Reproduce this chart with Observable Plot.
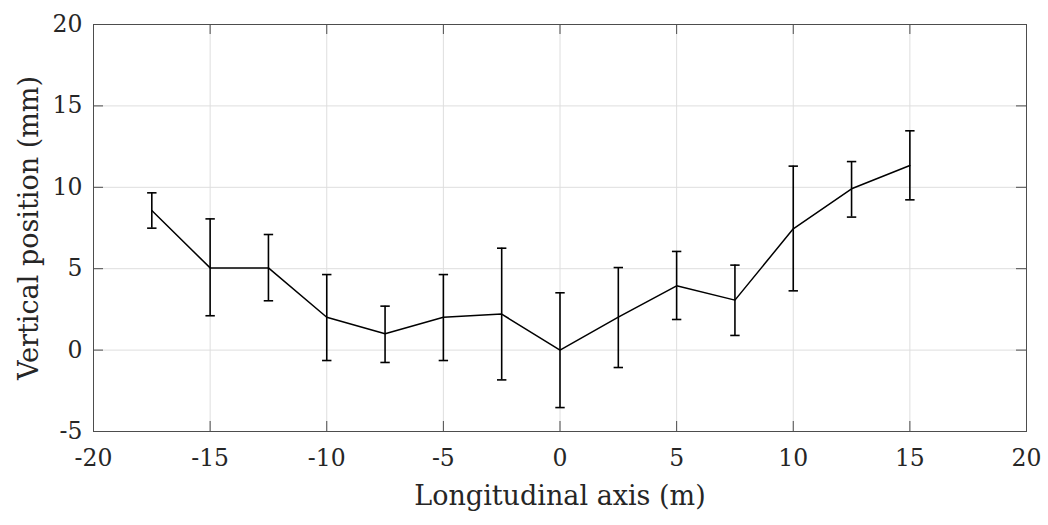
<!DOCTYPE html>
<html>
<head>
<meta charset="utf-8">
<script src="https://cdn.jsdelivr.net/npm/d3@7"></script>
<script src="https://cdn.jsdelivr.net/npm/@observablehq/plot@0.6"></script>
<style>
  html, body { margin: 0; padding: 0; background: #fff; }
  svg { display: block; }
</style>
</head>
<body>
<div id="chart"></div>
<script>
// Data
const positions = [-17.5, -15, -12.5, -10, -7.5, -5, -2.5, 0, 2.5, 5, 7.5, 10, 12.5, 15];
const means     = [8.57, 5.05, 5.05, 2.02, 1.0, 2.02, 2.21, 0.0, 2.02, 3.95, 3.07, 7.45, 9.91, 11.34];
const upper     = [9.66, 8.06, 7.1, 4.64, 2.7, 4.64, 6.26, 3.52, 5.07, 6.06, 5.22, 11.3, 11.58, 13.47];
const lower     = [7.49, 2.11, 3.03, -0.64, -0.76, -0.64, -1.83, -3.53, -1.07, 1.88, 0.9, 3.64, 8.17, 9.23];
const xTicks = [-20, -15, -10, -5, 0, 5, 10, 15, 20];
const yTicks = [-5, 0, 5, 10, 15, 20];
const xTitle = "Longitudinal axis (m)";
const yTitle = "Vertical position (mm)";

const data = positions.map((x, i) => ({x, y: means[i], hi: upper[i], lo: lower[i]}));

const W = 1048, H = 525;
const mL = 93, mR = 22, mT = 24, mB = 94;
const plotW = W - mL - mR, plotH = H - mT - mB;
const tickLen = 10;
const font = "'DejaVu Serif', 'Liberation Serif', serif";
const textColor = "#262626";
const boxColor = "#4d4d4d";

const capSymbol = {
  draw(context, size) {
    const r = Math.sqrt(size / Math.PI);
    context.moveTo(-r, 0);
    context.lineTo(r, 0);
  }
};

const chart = Plot.plot({
  width: W,
  height: H,
  marginLeft: mL,
  marginRight: mR,
  marginTop: mT,
  marginBottom: mB,
  style: {fontFamily: font, background: "#fff", overflow: "visible"},
  x: {domain: [-20, 20], axis: null},
  y: {domain: [-5, 20], axis: null},
  marks: [
    // grid
    Plot.ruleX(xTicks, {x: d => d, stroke: "#dedede", strokeWidth: 1}),
    Plot.ruleY(yTicks, {y: d => d, stroke: "#dedede", strokeWidth: 1}),
    // inward ticks on all four sides
    Plot.ruleX(xTicks, {x: d => d, insetTop: plotH - tickLen, stroke: boxColor}),
    Plot.ruleX(xTicks, {x: d => d, insetBottom: plotH - tickLen, stroke: boxColor}),
    Plot.ruleY(yTicks, {y: d => d, insetRight: plotW - tickLen, stroke: boxColor}),
    Plot.ruleY(yTicks, {y: d => d, insetLeft: plotW - tickLen, stroke: boxColor}),
    Plot.frame({stroke: boxColor, strokeWidth: 1}),
    // tick labels
    Plot.text(xTicks, {x: d => d, frameAnchor: "bottom", dy: 27, lineAnchor: "middle", textAnchor: "middle",
      text: d => String(d), fontSize: 23.5, fill: textColor}),
    Plot.text(yTicks, {y: d => d, frameAnchor: "left", dx: -11, textAnchor: "end", lineAnchor: "middle",
      text: d => String(d), fontSize: 23.5, fill: textColor}),
    // axis titles
    Plot.text([xTitle], {frameAnchor: "bottom", dy: 65, lineAnchor: "middle", textAnchor: "middle",
      text: d => d, fontSize: 27, fill: textColor}),
    Plot.text([yTitle], {frameAnchor: "left", dx: -64, rotate: -90, lineAnchor: "middle", textAnchor: "middle",
      text: d => d, fontSize: 27, fill: textColor}),
    // error bars
    Plot.ruleX(data, {x: "x", y1: "lo", y2: "hi", stroke: "#000", strokeWidth: 1.6}),
    Plot.dot(data, {x: "x", y: "hi", symbol: capSymbol, r: 4.7, fill: "none", stroke: "#000", strokeWidth: 1.6}),
    Plot.dot(data, {x: "x", y: "lo", symbol: capSymbol, r: 4.7, fill: "none", stroke: "#000", strokeWidth: 1.6}),
    // mean line
    Plot.line(data, {x: "x", y: "y", stroke: "#000", strokeWidth: 1.5})
  ]
});

document.getElementById("chart").appendChild(chart);
</script>
</body>
</html>
